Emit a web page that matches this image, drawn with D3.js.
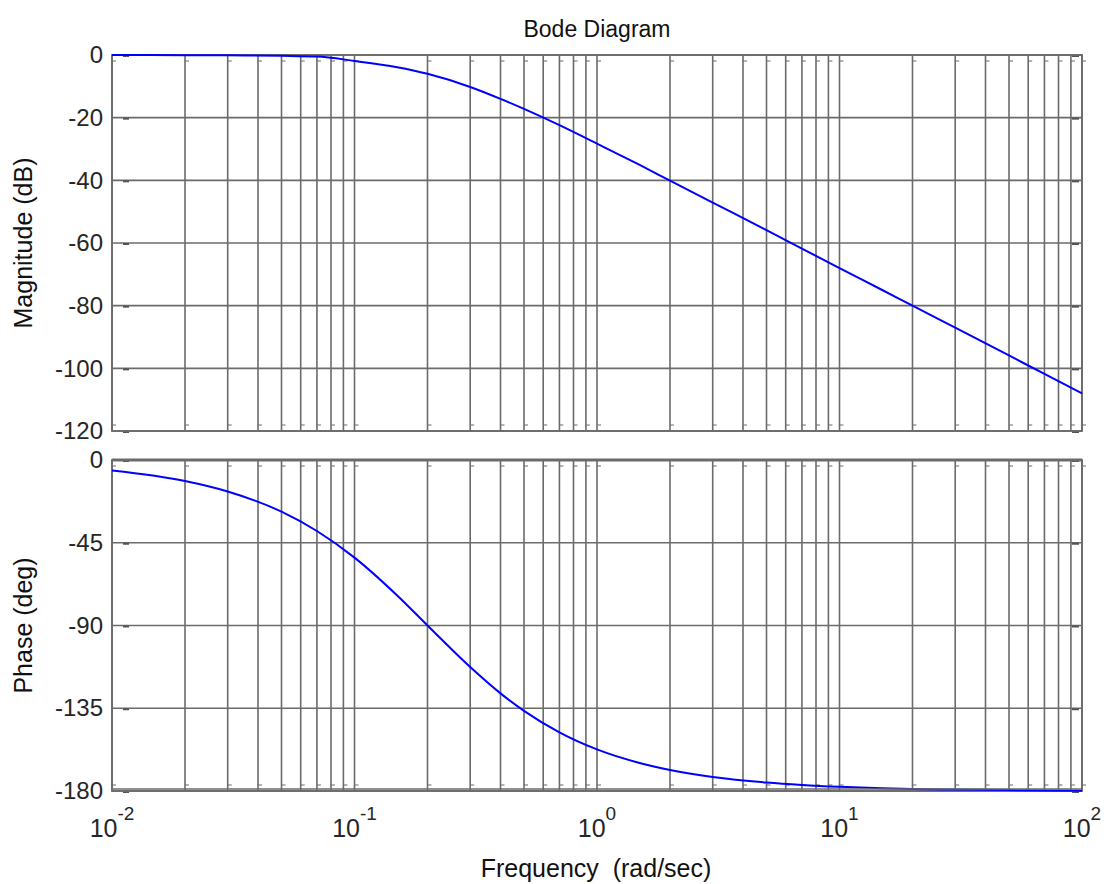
<!DOCTYPE html>
<html>
<head>
<meta charset="utf-8">
<script src="https://cdn.jsdelivr.net/npm/d3@7/dist/d3.min.js"></script>
<style>
  html, body { margin: 0; padding: 0; background: #fff; }
  svg { display: block; }
  text { font-family: "Liberation Sans", Arial, Helvetica, sans-serif; white-space: pre; }
</style>
</head>
<body>
<svg id="chart" width="1104" height="884"></svg>
<script>
// ---- Data ----
const freq      = [0.01, 0.02, 0.03, 0.05, 0.07, 0.1, 0.15, 0.2, 0.3, 0.4, 0.5, 0.7, 1, 1.5, 2, 3, 5, 7, 10, 15, 20, 30, 50, 70, 100];
const magnitude = [-0.02, -0.04, -0.1, -0.26, -0.5, -1.9, -3.9, -6.0, -10.2, -14.0, -17.2, -22.4, -28.3, -35.1, -40.1, -47.1, -55.9, -61.8, -68.0, -75.0, -80.0, -87.0, -95.9, -101.8, -108.0];
const phase     = [-5.7, -11.4, -17.1, -28.1, -38.6, -53.1, -73.7, -90.0, -112.6, -126.9, -136.4, -148.1, -157.4, -164.8, -168.6, -172.4, -175.4, -176.7, -177.7, -178.5, -178.9, -179.2, -179.5, -179.7, -179.8];
const magTicks   = [0, -20, -40, -60, -80, -100, -120];
const phaseTicks = [0, -45, -90, -135, -180];
const decadeTicks = [0.01, 0.1, 1, 10, 100];
const decadeLabels = [["10", "-2"], ["10", "-1"], ["10", "0"], ["10", "1"], ["10", "2"]];
const titleText = "Bode Diagram";
const magLabel = "Magnitude (dB)";
const phaseLabel = "Phase (deg)";
const xLabel = "Frequency  (rad/sec)";

// ---- Layout ----
const svg = d3.select("#chart");
const L = 112, R = 1082;
const magTop = 55, magBot = 431;
const phTop = 460, phBot = 791;
const gridColor = "#6b6b6b";
const textColor = "#262626";

const x = d3.scaleLog().domain([0.01, 100]).range([L, R]);
const yMag = d3.scaleLinear().domain([-120, 0]).range([magBot, magTop]);
const yPh = d3.scaleLinear().domain([-180, 0]).range([phBot, phTop]);

const minorX = x.ticks(); // 1..9 x 10^k

function panel(y, ticks, top, bot, values) {
  const g = svg.append("g");
  g.selectAll("line.vg").data(minorX).enter().append("line")
    .attr("x1", d => x(d)).attr("x2", d => x(d))
    .attr("y1", top).attr("y2", bot)
    .attr("stroke", gridColor).attr("stroke-width", 1.6);
  g.selectAll("line.st").data(minorX).enter().append("line")
    .attr("x1", d => x(d)).attr("x2", d => x(d) + 4)
    .attr("y1", top + 6).attr("y2", top + 6)
    .attr("stroke", gridColor).attr("stroke-width", 1);
  g.selectAll("line.sb").data(minorX).enter().append("line")
    .attr("x1", d => x(d)).attr("x2", d => x(d) + 4)
    .attr("y1", bot - 6).attr("y2", bot - 6)
    .attr("stroke", gridColor).attr("stroke-width", 1);
  g.selectAll("line.hg").data(ticks).enter().append("line")
    .attr("x1", L).attr("x2", R)
    .attr("y1", d => y(d)).attr("y2", d => y(d))
    .attr("stroke", gridColor).attr("stroke-width", 1.6);
  g.selectAll("line.yl").data(ticks).enter().append("line")
    .attr("x1", L + 11).attr("x2", L + 17)
    .attr("y1", d => y(d) + 1).attr("y2", d => y(d) + 1)
    .attr("stroke", "#555").attr("stroke-width", 2);
  g.selectAll("line.yr").data(ticks).enter().append("line")
    .attr("x1", R - 10).attr("x2", R - 3)
    .attr("y1", d => y(d) + 1).attr("y2", d => y(d) + 1)
    .attr("stroke", "#555").attr("stroke-width", 2);
  g.append("rect").attr("x", L).attr("y", top).attr("width", R - L).attr("height", bot - top)
    .attr("fill", "none").attr("stroke", gridColor).attr("stroke-width", 1.8);
  const ax = d3.axisLeft(y).tickValues(ticks).tickSize(0).tickPadding(9).tickFormat(d => String(d));
  const ag = svg.append("g").attr("transform", `translate(${L},0)`).call(ax);
  ag.select(".domain").remove();
  ag.selectAll("text").attr("fill", textColor).style("font-size", "24px")
    .style("font-family", '"Liberation Sans", Arial, sans-serif');
  const line = d3.line().x((d, i) => x(freq[i])).y(d => y(d)).curve(d3.curveMonotoneX);
  svg.append("path").datum(values).attr("d", line)
    .attr("fill", "none").attr("stroke", "#0000ff").attr("stroke-width", 2);
  return g;
}

panel(yMag, magTicks, magTop, magBot, magnitude);
panel(yPh, phaseTicks, phTop, phBot, phase);

svg.append("line").attr("x1", L).attr("x2", R).attr("y1", phTop).attr("y2", phTop)
  .attr("stroke", gridColor).attr("stroke-width", 3);
svg.append("line").attr("x1", L).attr("x2", R).attr("y1", phBot - 2).attr("y2", phBot - 2)
  .attr("stroke", gridColor).attr("stroke-width", 1.4);

const xl = svg.append("g").selectAll("text").data(decadeTicks).enter().append("text")
  .attr("x", d => x(d)).attr("y", 837)
  .attr("text-anchor", "middle").attr("fill", textColor)
  .style("font-size", "25px");
xl.append("tspan").text((d, i) => decadeLabels[i][0]);
xl.append("tspan").attr("dy", -17).style("font-size", "19px").text((d, i) => decadeLabels[i][1]);

svg.append("text").attr("x", 597).attr("y", 37).attr("text-anchor", "middle")
  .attr("fill", "#111").style("font-size", "23px").text(titleText);
svg.append("text").attr("x", 596).attr("y", 877).attr("text-anchor", "middle")
  .attr("fill", "#111").style("font-size", "25px").text(xLabel);
svg.append("text").attr("transform", `translate(32,${(magTop + magBot) / 2}) rotate(-90)`)
  .attr("text-anchor", "middle").attr("fill", "#111").style("font-size", "25px").text(magLabel);
svg.append("text").attr("transform", `translate(32,${(phTop + phBot) / 2}) rotate(-90)`)
  .attr("text-anchor", "middle").attr("fill", "#111").style("font-size", "25px").text(phaseLabel);
</script>
</body>
</html>
